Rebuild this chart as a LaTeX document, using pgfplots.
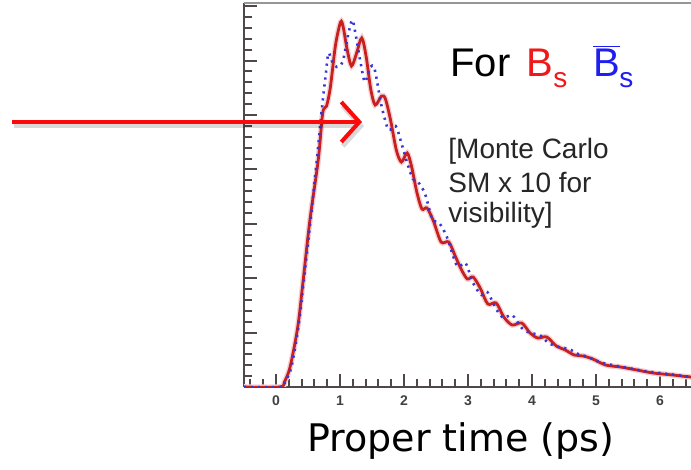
\documentclass[border=0pt]{standalone}
\usepackage{pgfplots}
\pgfplotsset{compat=1.18}
\usepackage{fontspec}
\setmainfont{Liberation Sans}
\newfontfamily\dejavu{DejaVu Sans}
\usetikzlibrary{arrows.meta}
\definecolor{curvered}{RGB}{200,32,32}
\definecolor{curveblue}{RGB}{55,55,215}
\definecolor{txtred}{RGB}{240,25,25}
\definecolor{txtblue}{RGB}{30,30,240}
\definecolor{arrred}{RGB}{250,10,10}
\definecolor{axdark}{RGB}{80,72,72}
\definecolor{axgray}{RGB}{150,150,150}

\pgfplotstableread{
t v
-0.5 0
0.06 0
0.13 5
0.22 20
0.34 60
0.42 104
0.53 167
0.66 227
0.73 274
0.79 281
0.85 300
0.93 342
1.01 365
1.05 360
1.11 338
1.18 321
1.26 334
1.34 349
1.41 330
1.48 298
1.55 282
1.65 291
1.71 288
1.79 267
1.88 237
1.96 225
2.05 234
2.12 220
2.20 195
2.28 178
2.36 179
2.46 166
2.58 145
2.70 145
2.80 131
2.90 117
2.99 108
3.08 110
3.19 99
3.31 83
3.44 84
3.56 70
3.69 62
3.84 64
3.97 54
4.09 49
4.23 50
4.38 41
4.52 37
4.66 32
4.80 31
4.95 28
5.15 22
5.38 20
5.64 17
5.89 14
6.20 12
6.48 10
7.00 8
}\redtable

\pgfplotstableread{
t v
-0.5 0
0.07 0
0.14 5
0.24 20
0.35 60
0.43 104
0.54 167
0.64 228
0.72 280
0.78 314
0.82 334
0.88 325
0.95 320
1.04 325
1.12 350
1.19 367
1.24 354
1.32 325
1.39 305
1.47 320
1.54 318
1.63 287
1.68 273
1.76 257
1.87 261
1.95 246
2.05 224
2.14 208
2.22 205
2.33 193
2.44 168
2.55 164
2.67 150
2.83 121
2.96 124
3.08 104
3.21 92
3.30 95
3.45 77
3.56 69
3.69 72
3.84 59
3.97 54
4.12 52
4.26 44
4.42 40
4.58 38
4.72 33
4.88 30
5.05 25
5.25 22
5.50 19
5.75 16
6.00 14
6.25 12
6.50 10
7.00 8
}\bluetable

\begin{document}
\begin{tikzpicture}
\useasboundingbox (-122pt,-41.5pt) rectangle (223.5pt,193.5pt);
\begin{axis}[
  at={(0,0)}, anchor=south west,
  scale only axis,
  width=240pt, height=192pt,
  xmin=-0.5, xmax=7,
  ymin=0, ymax=384,
  axis x line*=bottom,
  axis y line*=left,
  x axis line style={draw=axdark, line width=0.9pt, -},
  y axis line style={draw=axdark, line width=0.8pt, -},
  xtick={0,1,2,3,4,5,6,7},
  xticklabels={0,1,2,3,4,5,6,{}},
  minor xtick={-0.4,-0.2,0.2,0.4,0.6,0.8,1.2,1.4,1.6,1.8,2.2,2.4,2.6,2.8,3.2,3.4,3.6,3.8,4.2,4.4,4.6,4.8,5.2,5.4,5.6,5.8,6.2,6.4,6.6,6.8},
  ytick={0,54.4,108.8,163.2,217.6,272,326.4,380.8},
  minor ytick={10.88,21.76,32.64,43.52,65.28,76.16,87.04,97.92,119.68,130.56,141.44,152.32,174.08,184.96,195.84,206.72,228.48,239.36,250.24,261.12,282.88,293.76,304.64,315.52,337.28,348.16,359.04,369.92},
  yticklabels={},
  tick align=inside,
  major tick length=6.5pt,
  minor tick length=4pt,
  tick style={draw=axdark, line width=1pt},
  xticklabel style={font=\fontsize{7}{8}\selectfont\bfseries, text=black!75, inner sep=0pt, yshift=-4pt},
]
\addplot[curvered!20, line width=2.8pt, smooth, tension=0.5] table[x=t,y=v] {\redtable};
\addplot[curvered, line width=1.4pt, smooth, tension=0.5] table[x=t,y=v] {\redtable};
\addplot[curveblue, line width=1.3pt, smooth, tension=0.5, dash pattern=on 1.1pt off 2.4pt] table[x=t,y=v] {\bluetable};
\end{axis}
\draw[axgray, line width=1.4pt] (0,192pt) -- (240pt,192pt);
\begin{scope}[x=0.5pt,y=0.5pt]
  % arrow shadow
  \draw[black, opacity=0.15, line width=2.4pt, -{Straight Barb[length=9pt,width=20pt,line width=2.4pt]}] (-230,261) -- (120,261);
  \draw[arrred, line width=2pt, -{Straight Barb[length=9pt,width=20pt,line width=2pt]}] (-232,265) -- (118,265);
  % title
  \node[anchor=base west, inner sep=0pt, font=\fontsize{20}{24}\selectfont] at (206,310) {For};
  \node[anchor=base west, inner sep=0pt, text=txtred, font=\fontsize{20}{24}\selectfont] at (282,310) {B};
  \node[anchor=base west, inner sep=0pt, text=txtred, font=\fontsize{14}{16}\selectfont] at (309,299) {s};
  \node[anchor=base west, inner sep=0pt, text=txtblue, font=\fontsize{20}{24}\selectfont] at (349,310) {$\overline{\mbox{B}}$};
  \node[anchor=base west, inner sep=0pt, text=txtblue, font=\fontsize{14}{16}\selectfont] at (375,299) {s};
  % note
  \node[anchor=base west, inner sep=0pt, text=black!85, font=\fontsize{14}{16}\selectfont] at (204,228) {[Monte Carlo};
  \node[anchor=base west, inner sep=0pt, text=black!85, font=\fontsize{14}{16}\selectfont] at (204,194) {SM x 10 for};
  \node[anchor=base west, inner sep=0pt, text=black!85, font=\fontsize{14}{16}\selectfont] at (204,164) {visibility]};
  % x label
  \node[anchor=base, inner sep=0pt, font=\dejavu\fontsize{19}{22}\selectfont] at (217,-65) {Proper time (ps)};
\end{scope}
\end{tikzpicture}
\end{document}
